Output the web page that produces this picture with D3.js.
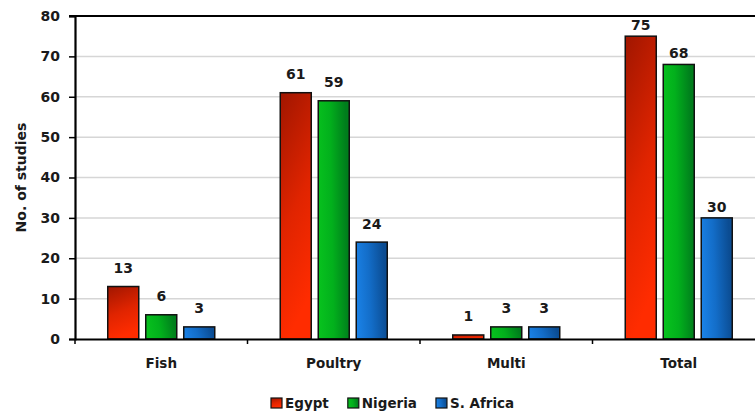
<!DOCTYPE html>
<html>
<head>
<meta charset="utf-8">
<script src="https://cdn.jsdelivr.net/npm/d3@7"></script>
<style>
html,body{margin:0;padding:0;background:#fff;}
svg{display:block;}
text{font-family:"DejaVu Sans",sans-serif;font-weight:bold;fill:#1a1a1a;}
</style>
</head>
<body>
<svg id="chart" width="755" height="412"></svg>
<script>
const categories = ["Fish", "Poultry", "Multi", "Total"];
const seriesNames = ["Egypt", "Nigeria", "S. Africa"];
const egypt = [13, 61, 1, 75];
const nigeria = [6, 59, 3, 68];
const southAfrica = [3, 24, 3, 30];
const yTicks = [0, 10, 20, 30, 40, 50, 60, 70, 80];

const seriesValues = [egypt, nigeria, southAfrica];

const svg = d3.select("#chart");
const W = 755, H = 412;
const plot = {left: 75, right: 765, top: 16, bottom: 339};

// gradients
const defs = svg.append("defs");
const grads = [
  {id: "gEgypt", x1: 0, y1: 0, x2: 0.25, y2: 1, stops: [["0%", "#a01600"], ["55%", "#e02400"], ["100%", "#ff2c00"]]},
  {id: "gNigeria", x1: 0, y1: 1, x2: 1, y2: 0.85, stops: [["0%", "#08c41e"], ["50%", "#02b01c"], ["100%", "#007d1c"]]},
  {id: "gSAfrica", x1: 0, y1: 1, x2: 1, y2: 0.85, stops: [["0%", "#1b84ea"], ["50%", "#136dc8"], ["100%", "#0b4c92"]]}
];
grads.forEach(g => {
  const lg = defs.append("linearGradient").attr("id", g.id)
    .attr("x1", g.x1).attr("y1", g.y1).attr("x2", g.x2).attr("y2", g.y2);
  g.stops.forEach(s => lg.append("stop").attr("offset", s[0]).attr("stop-color", s[1]));
});
const fills = ["url(#gEgypt)", "url(#gNigeria)", "url(#gSAfrica)"];

const x0 = d3.scaleBand().domain(categories).range([plot.left, plot.right]).paddingInner(0).paddingOuter(0);
const x1 = d3.scaleBand().domain(seriesNames).range([0, x0.bandwidth()]).paddingInner(0.184).paddingOuter(0.862);
const y = d3.scaleLinear().domain([0, 80]).range([plot.bottom, plot.top]);

// gridlines
svg.append("g").selectAll("line").data(yTicks.filter(t => t > 0 && t < 80)).join("line")
  .attr("x1", plot.left).attr("x2", W)
  .attr("y1", d => y(d)).attr("y2", d => y(d))
  .attr("stroke", "#d6d6d6").attr("stroke-width", 1.5);

// top border
svg.append("line").attr("x1", plot.left - 6).attr("x2", W)
  .attr("y1", y(80)).attr("y2", y(80)).attr("stroke", "#000").attr("stroke-width", 2.2);

// bars
const groups = svg.append("g").selectAll("g").data(categories).join("g")
  .attr("transform", d => `translate(${x0(d)},0)`);
groups.selectAll("rect").data((c, ci) => seriesNames.map((s, si) => ({s, si, ci, v: seriesValues[si][ci]})))
  .join("rect")
  .attr("x", d => x1(d.s))
  .attr("width", x1.bandwidth())
  .attr("y", d => y(d.v))
  .attr("height", d => y(0) - y(d.v))
  .attr("fill", d => fills[d.si])
  .attr("stroke", "#111").attr("stroke-width", 1.5);

// value labels
groups.selectAll("text").data((c, ci) => seriesNames.map((s, si) => ({s, si, ci, v: seriesValues[si][ci], c})))
  .join("text")
  .attr("x", d => x1(d.s) + x1.bandwidth() / 2)
  .attr("y", d => y(d.v) - (d.c === "Total" ? 6 : 13.5))
  .attr("text-anchor", "middle")
  .attr("font-size", 14)
  .text(d => d.v);

// y axis
const yAxis = d3.axisLeft(y).tickValues(yTicks).tickSize(6).tickPadding(9);
const ya = svg.append("g").attr("transform", `translate(${plot.left},0)`).call(yAxis);
ya.select(".domain").attr("stroke", "#000").attr("stroke-width", 2.2);
ya.selectAll(".tick line").attr("stroke", "#000").attr("stroke-width", 1.5);
ya.selectAll(".tick text").attr("font-size", 14).attr("font-family", "DejaVu Sans").attr("font-weight", "bold").attr("fill", "#1a1a1a");

// x axis
const xAxis = d3.axisBottom(x0).tickSize(0).tickPadding(19);
const xa = svg.append("g").attr("transform", `translate(0,${plot.bottom})`).call(xAxis);
xa.select(".domain").attr("stroke", "#000").attr("stroke-width", 2.2);
xa.selectAll(".tick text").attr("font-size", 13.5).attr("font-family", "DejaVu Sans").attr("font-weight", "bold").attr("fill", "#1a1a1a");
// boundary ticks
svg.append("g").selectAll("line").data(categories).join("line")
  .attr("x1", d => x0(d)).attr("x2", d => x0(d))
  .attr("y1", plot.bottom).attr("y2", plot.bottom + 5)
  .attr("stroke", "#000").attr("stroke-width", 1.5);

// y title
svg.append("text")
  .attr("transform", `translate(26,${(plot.top + plot.bottom) / 2}) rotate(-90)`)
  .attr("text-anchor", "middle")
  .attr("font-size", 14)
  .text("No. of studies");

// legend
const legend = svg.append("g");
let lx = 271;
seriesNames.forEach((s, i) => {
  const g = legend.append("g").attr("transform", `translate(${lx},398)`);
  g.append("rect").attr("width", 11).attr("height", 10).attr("fill", fills[i]).attr("stroke", "#111").attr("stroke-width", 1.2);
  const t = g.append("text").attr("x", 14).attr("y", 9.5).attr("font-size", 13.5).text(s);
  lx += 14 + t.node().getComputedTextLength() + 19;
});
</script>
</body>
</html>
